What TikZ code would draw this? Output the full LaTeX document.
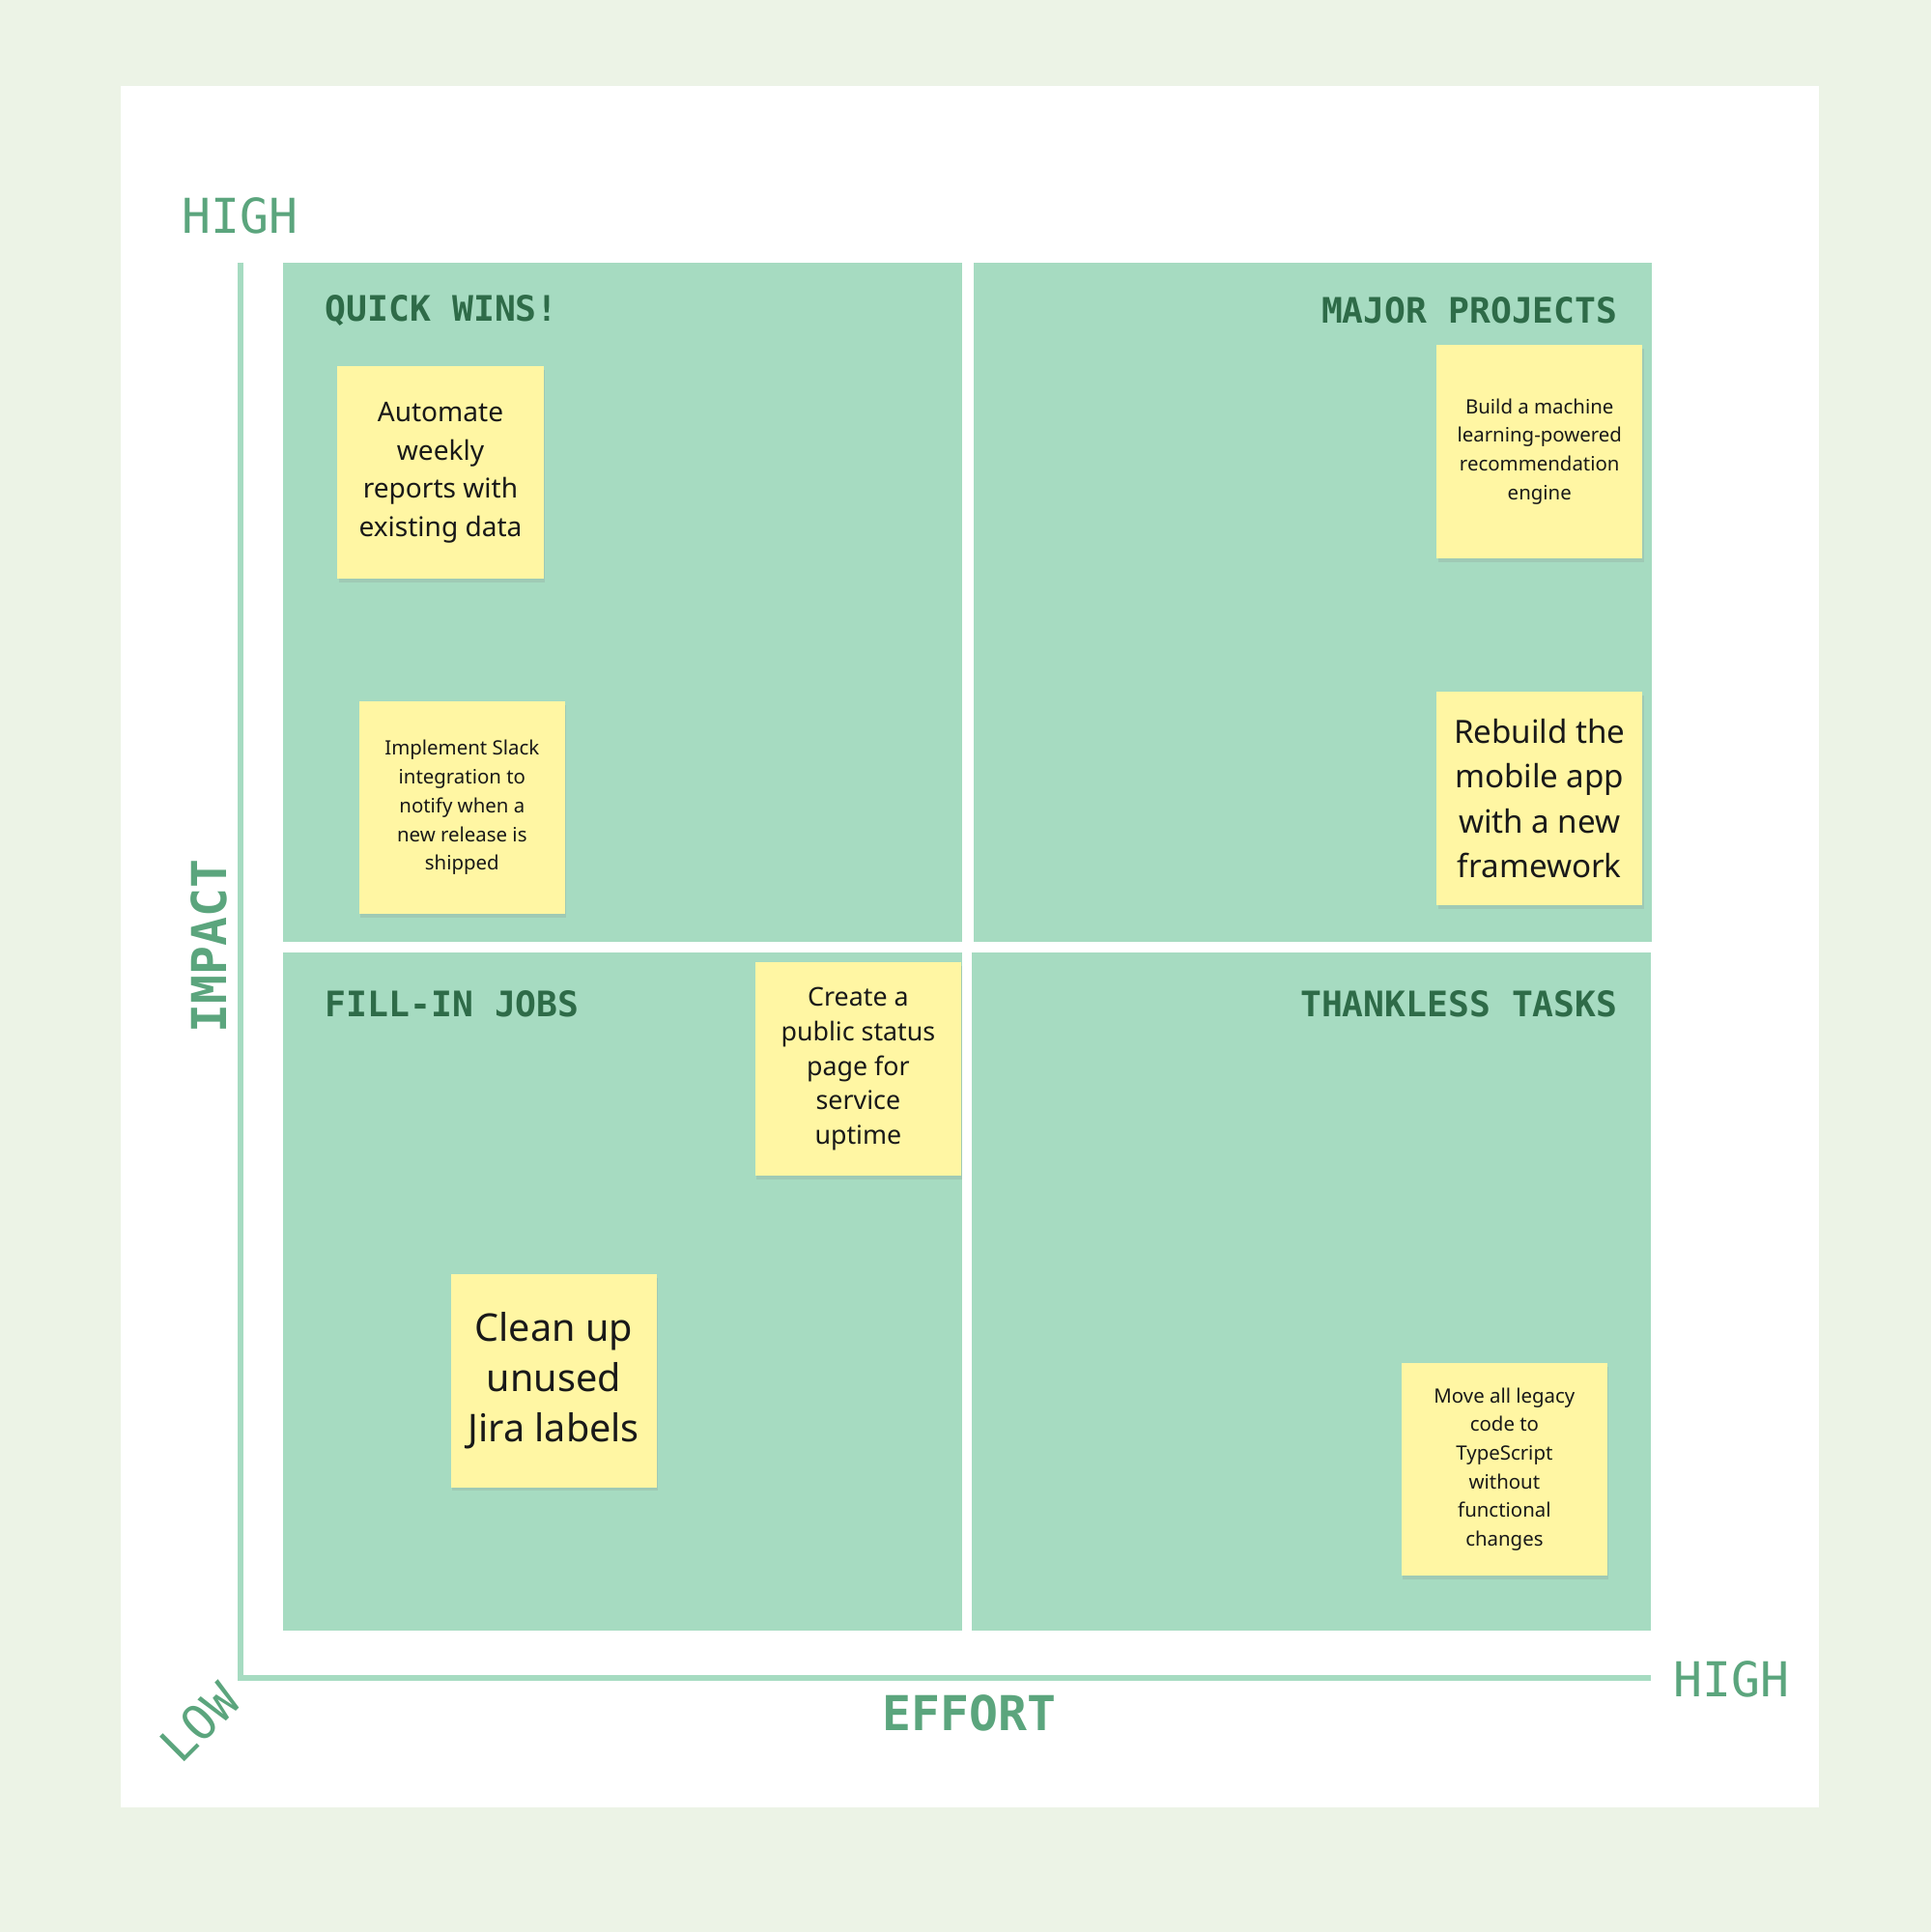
\documentclass[tikz,border=0pt]{standalone}
\usepackage{fontspec}
\setmainfont{Noto Sans}
\newfontfamily\monofont{DejaVu Sans Mono}
\usetikzlibrary{shadows}
\definecolor{pagebg}{HTML}{ECF3E6}
\definecolor{quad}{HTML}{A6DBC1}
\definecolor{axislab}{HTML}{5BA57D}
\definecolor{quadlab}{HTML}{2E6B48}
\definecolor{sticky}{HTML}{FFF6A3}
\tikzset{
  quadbox/.style={fill=quad, draw=none},
  quadtitle/.style={font=\monofont\bfseries\fontsize{28.5}{30}\selectfont, text=quadlab, inner sep=0},
  axistext/.style={font=\monofont\fontsize{39}{42}\selectfont, text=axislab, inner sep=0},
  axisname/.style={font=\monofont\bfseries\fontsize{39}{42}\selectfont, text=axislab, inner sep=0},
  note/.style={fill=sticky, minimum width=167pt, minimum height=173pt,
    align=center, inner sep=0, text=black!90,
    drop shadow={opacity=0.18, shadow xshift=1pt, shadow yshift=-3pt}},
}
\begin{document}
\begin{tikzpicture}[x=1pt, y=-1pt]
\fill[pagebg] (0,0) rectangle (1567,1568);
\useasboundingbox (0,0) rectangle (1567,1568);
\fill[white] (98,70) rectangle (1476,1467);
% quadrants
\fill[quadbox] (230,213) rectangle (781,764);
\fill[quadbox] (790,213) rectangle (1341,764);
\fill[quadbox] (230,773) rectangle (781,1323);
\fill[quadbox] (789,773) rectangle (1340,1323);
% axes
\coordinate (top) at (195,213);
\coordinate (origin) at (195,1362);
\coordinate (right) at (1340,1362);
\draw[quad, line width=5pt] (top) -- (origin) -- (right);
\node[axistext] (hightop) at (195,175) {HIGH};
\node[axistext] (highright) at (1405,1363) {HIGH};
\node[axistext, rotate=45] (low) at (162,1398) {LOW};
\node[axisname] (effort) at (787,1390) {EFFORT};
\node[axisname, rotate=90] (impact) at (170,768) {IMPACT};
% titles
\node[quadtitle, anchor=west] (quick) at (264,252) {QUICK WINS!};
\node[quadtitle, anchor=east] (major) at (1313,252) {MAJOR PROJECTS};
\node[quadtitle, anchor=west] (fillin) at (264,815) {FILL-IN JOBS};
\node[quadtitle, anchor=east] (thankless) at (1313,815) {THANKLESS TASKS};
% notes
\node[note, font=\fontsize{22}{31}\selectfont] (automate) at (357.5,383.5)
  {Automate\\weekly\\reports with\\existing data};
\node[note, font=\fontsize{16}{23.3}\selectfont] (slack) at (375,655.5)
  {Implement Slack\\integration to\\notify when a\\new release is\\shipped};
\node[note, font=\fontsize{16}{23.3}\selectfont] (machine) at (1249.5,366.5)
  {Build a machine\\learning-powered\\recommendation\\engine};
\node[note, font=\fontsize{26}{36.5}\selectfont] (rebuild) at (1249.5,648)
  {Rebuild the\\mobile app\\with a new\\framework};
\node[note, font=\fontsize{21}{28}\selectfont] (status) at (696.5,867.5)
  {Create a\\public status\\page for\\service\\uptime};
\node[note, font=\fontsize{31}{41}\selectfont] (cleanup) at (449.5,1120.5)
  {Clean up\\unused\\Jira labels};
\node[note, font=\fontsize{16}{23.3}\selectfont] (legacy) at (1221,1192.5)
  {Move all legacy\\code to\\TypeScript\\without\\functional\\changes};
\end{tikzpicture}
\end{document}
